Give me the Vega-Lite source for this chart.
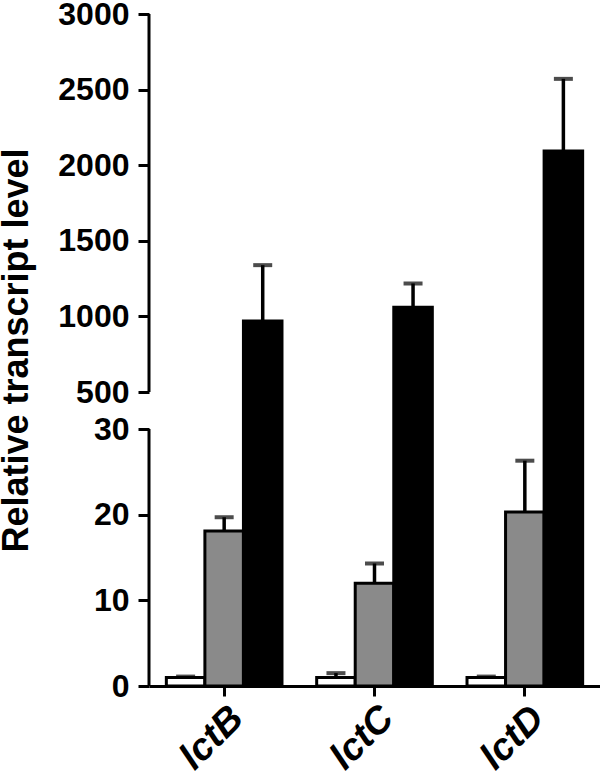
{
  "$schema": "https://vega.github.io/schema/vega-lite/v6.json",
  "width": 451,
  "height": 672,
  "autosize": {"type": "none"},
  "padding": {"left": 149, "top": 14, "right": 0, "bottom": 87},
  "config": {"view": {"stroke": null}, "font": "Liberation Sans"},
  "datasets": {
    "bars": [
      {"gene": "lctB", "group": "group 1", "mean": 1.0, "upper": 1.1},
      {"gene": "lctB", "group": "group 2", "mean": 18.1, "upper": 19.7},
      {"gene": "lctB", "group": "group 3", "mean": 970, "upper": 1339},
      {"gene": "lctC", "group": "group 1", "mean": 1.0, "upper": 1.5},
      {"gene": "lctC", "group": "group 2", "mean": 12.0, "upper": 14.3},
      {"gene": "lctC", "group": "group 3", "mean": 1061, "upper": 1218},
      {"gene": "lctD", "group": "group 1", "mean": 1.0, "upper": 1.1},
      {"gene": "lctD", "group": "group 2", "mean": 20.3, "upper": 26.3},
      {"gene": "lctD", "group": "group 3", "mean": 2094, "upper": 2571}
    ],
    "axisSegments": [
      {"from": 0, "to": 30},
      {"from": 500, "to": 3000}
    ]
  },
  "encoding": {
    "x": {
      "field": "gene",
      "type": "nominal",
      "title": null,
      "scale": {"paddingInner": 0, "paddingOuter": 0},
      "axis": {
        "labelAngle": -45,
        "labelFontSize": 38,
        "labelFontStyle": "italic",
        "labelFontWeight": "bold",
        "labelColor": "black",
        "labelPadding": 3,
        "tickSize": 10,
        "tickWidth": 3,
        "tickColor": "black",
        "domainWidth": 3,
        "domainColor": "black"
      }
    }
  },
  "resolve": {"scale": {"y": "shared"}},
  "layer": [
    {
      "data": {"name": "bars"},
      "mark": {"type": "bar", "stroke": "black", "strokeWidth": 3},
      "encoding": {
        "xOffset": {
          "field": "group",
          "type": "nominal",
          "sort": ["group 1", "group 2", "group 3"],
          "scale": {"paddingInner": 0, "paddingOuter": 0.45}
        },
        "y": {
          "field": "mean",
          "type": "quantitative",
          "title": "Relative transcript level",
          "scale": {
            "type": "linear",
            "domain": [0, 30, 500, 3000],
            "range": [672, 415, 378, 0],
            "nice": false,
            "zero": false
          },
          "axis": {
            "values": [0, 10, 20, 30, 500, 1000, 1500, 2000, 2500, 3000],
            "format": "d",
            "domain": false,
            "grid": false,
            "tickSize": 11,
            "tickWidth": 3,
            "tickColor": "black",
            "labelFontSize": 32,
            "labelFontWeight": "bold",
            "labelColor": "black",
            "labelPadding": 9,
            "titleFontSize": 36,
            "titleFontWeight": "bold",
            "titleColor": "black",
            "titlePadding": 22
          }
        },
        "fill": {
          "field": "group",
          "type": "nominal",
          "scale": {"domain": ["group 1", "group 2", "group 3"], "range": ["white", "#8a8a8a", "black"]},
          "legend": null
        }
      }
    },
    {
      "data": {"name": "bars"},
      "mark": {"type": "rule", "color": "black", "strokeWidth": 3.5},
      "encoding": {
        "xOffset": {
          "field": "group",
          "type": "nominal",
          "sort": ["group 1", "group 2", "group 3"],
          "scale": {"paddingInner": 0, "paddingOuter": 0.45}
        },
        "y": {"field": "mean", "type": "quantitative", "title": "Relative transcript level"},
        "y2": {"field": "upper"}
      }
    },
    {
      "data": {"name": "bars"},
      "mark": {"type": "tick", "color": "black", "thickness": 4, "size": 19, "orient": "horizontal"},
      "encoding": {
        "xOffset": {
          "field": "group",
          "type": "nominal",
          "sort": ["group 1", "group 2", "group 3"],
          "scale": {"paddingInner": 0, "paddingOuter": 0.45}
        },
        "y": {"field": "upper", "type": "quantitative", "title": "Relative transcript level"}
      }
    },
    {
      "data": {"name": "axisSegments"},
      "mark": {"type": "rule", "color": "black", "strokeWidth": 3},
      "encoding": {
        "x": {"datum": "lctB", "type": "nominal", "bandPosition": 0},
        "y": {"field": "from", "type": "quantitative", "title": "Relative transcript level"},
        "y2": {"field": "to"}
      }
    }
  ]
}
